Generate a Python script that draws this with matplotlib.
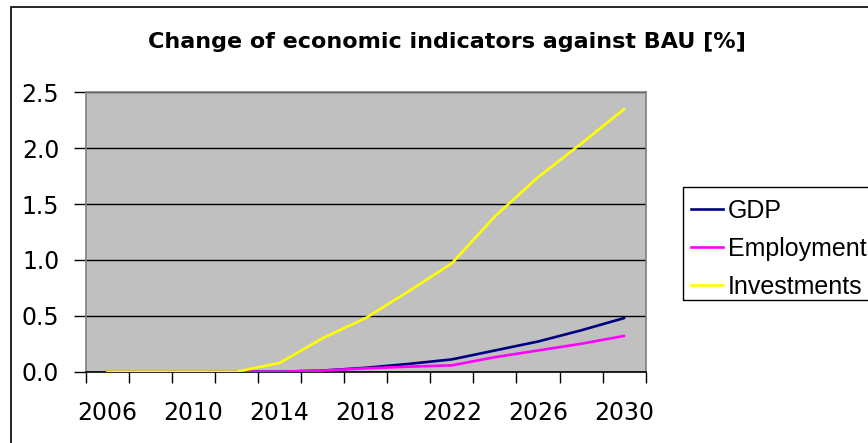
import matplotlib
matplotlib.use("Agg")
import matplotlib.pyplot as plt
from matplotlib.lines import Line2D
from matplotlib.patches import Rectangle
from matplotlib.ticker import FixedLocator, FuncFormatter

plt.rcParams['font.family'] = ['DejaVu Sans']

years = [2006, 2008, 2010, 2012, 2014, 2016, 2018, 2020, 2022, 2024, 2026, 2028, 2030]
gdp = [0.0, 0.0, 0.0, 0.0, 0.0, 0.01, 0.035, 0.07, 0.11, 0.19, 0.27, 0.37, 0.48]
employment = [0.0, 0.0, 0.0, 0.0, 0.0, 0.01, 0.03, 0.045, 0.057, 0.13, 0.19, 0.25, 0.32]
investments = [0.0, 0.0, 0.0, 0.0, 0.078, 0.30, 0.48, 0.72, 0.97, 1.39, 1.74, 2.04, 2.35]
series_names = ['GDP', 'Employment', 'Investments']
series_colors = ['#000080', '#FF00FF', '#FFFF00']
y_ticks = [0.0, 0.5, 1.0, 1.5, 2.0, 2.5]
title = 'Change of economic indicators against BAU [%]'

W, H = 868, 443
fig = plt.figure(figsize=(W / 100, H / 100), dpi=100)
fig.patch.set_facecolor('white')

# outer chart border
fig.patches.append(Rectangle((11 / W, -0.1), 1.2, 1.1 - 7 / H, transform=fig.transFigure,
                             fill=False, edgecolor='#000000', linewidth=1.2, zorder=0))

ax = fig.add_axes([85.7 / W, (H - 371.7) / H, 560 / W, 279.4 / H])
ax.set_facecolor('#C0C0C0')

x = list(range(len(years)))
for vals, name, col in zip([gdp, employment, investments], series_names, series_colors):
    ax.plot(x, vals, color=col, linewidth=1.9, label=name, zorder=3, solid_capstyle='round')

ax.set_xlim(-0.5, len(years) - 0.5)
ax.set_ylim(0, 2.5)

ax.set_yticks(y_ticks)
ax.yaxis.set_major_formatter(FuncFormatter(lambda v, p: f'{v:.1f}'))
ax.grid(axis='y', color='black', linewidth=1.0, zorder=1)
ax.set_axisbelow(True)

label_idx = list(range(0, len(years), 2))
ax.set_xticks(label_idx)
ax.set_xticklabels([str(years[i]) for i in label_idx])
ax.xaxis.set_minor_locator(FixedLocator([i - 0.5 for i in range(len(years) + 1)]))

ax.tick_params(axis='x', which='major', length=0, pad=21, labelsize=17)
ax.tick_params(axis='x', which='minor', length=8, width=1, color='black', direction='out')
ax.tick_params(axis='y', which='major', length=9, width=1, color='black', direction='out', pad=10, labelsize=17)

for s in ['top', 'right', 'left']:
    ax.spines[s].set_color('#808080')
    ax.spines[s].set_linewidth(1.2)
ax.spines['bottom'].set_color('#000000')
ax.spines['bottom'].set_linewidth(1.2)

fig.text(447 / W, 1 - 41.5 / H, title, ha='center', va='center', fontsize=16, fontweight='bold')

# legend frame (extends past the right edge, as in the reference)
fig.patches.append(Rectangle((683 / W, 1 - 300 / H), 0.5, 113 / H, transform=fig.transFigure,
                             fill=False, edgecolor='#000000', linewidth=1.0, zorder=1))

handles = [Line2D([], [], color=c, linewidth=1.9) for c in series_colors]
leg = fig.legend(handles, series_names, loc='upper left', bbox_to_anchor=(691 / W, 1 - 199 / H),
                 bbox_transform=fig.transFigure, frameon=False,
                 prop={'family': ['Liberation Sans', 'DejaVu Sans'], 'size': 18},
                 borderpad=0, handlelength=1.28, handletextpad=0.2, labelspacing=0.56,
                 borderaxespad=0)

fig.savefig('out.png', dpi=100)
